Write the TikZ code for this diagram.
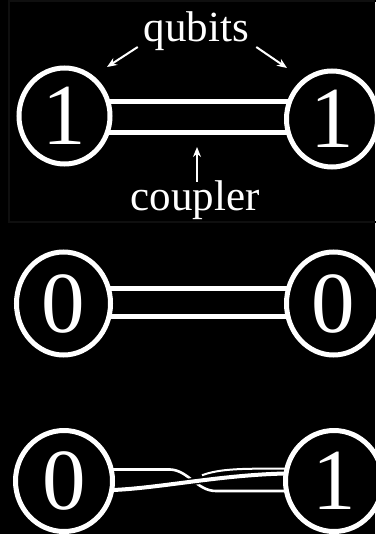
\documentclass[tikz,border=0pt]{standalone}
\usepackage{fontspec}
\setmainfont{Liberation Serif}
\usetikzlibrary{shapes.geometric,arrows.meta,calc}
\pgfdeclarelayer{back}
\pgfdeclarelayer{wires}
\pgfsetlayers{back,wires,main}
\definecolor{framegray}{RGB}{15,15,15}
\begin{document}
\begin{tikzpicture}[x=1pt,y=-1pt,
  qubit/.style={ellipse, draw=white, line width=5pt, fill=black, text=white,
    inner sep=0pt, font=\fontsize{87}{87}\selectfont},
  lbltext/.style={text=white, inner sep=0pt, anchor=base,
    font=\fontsize{43}{43}\selectfont},
  pointer/.style={draw=white, line width=2pt, -{Stealth[length=10pt,width=8pt]}},
  couplerline/.style={draw=white, line width=5pt},
  thinwire/.style={draw=white, line width=2.6pt},
  thickwire/.style={draw=white, line width=4pt},
  casing/.style={draw=black, line width=7pt}
]
\useasboundingbox (0,0) rectangle (375,534);
\begin{pgfonlayer}{back}
  \fill[black] (0,0) rectangle (375,534);
  \draw[framegray, line width=2pt] (9,1) rectangle (385,222);
\end{pgfonlayer}

% qubits
\node[qubit, minimum width=91pt, minimum height=96pt] (qa) at (64.5,116) {1};
\node[qubit, minimum width=91pt, minimum height=96pt] (qb) at (332,119) {1};
\node[qubit, minimum width=94pt, minimum height=103pt] (qc) at (63.5,303.5) {0};
\node[qubit, minimum width=94pt, minimum height=103pt] (qd) at (333.5,303.5) {0};
\node[qubit, minimum width=97pt, minimum height=101pt] (qe) at (64,481) {0};
\node[qubit, minimum width=97pt, minimum height=101pt] (qf) at (334,481) {1};

% labels
\node[lbltext] (qlabel) at (196.5,42) {qubits};
\node[lbltext] (clabel) at (195,211) {coupler};

% couplers
\begin{pgfonlayer}{wires}
  \coordinate (ca1) at ($(qa)+(0,-14.5)$);
  \coordinate (ca2) at ($(qa)+(0,16.5)$);
  \draw[couplerline] (ca1) -- (ca1 -| qb);
  \draw[couplerline] (ca2) -- (ca2 -| qb);
  \coordinate (cb1) at ($(qc)+(0,-15)$);
  \coordinate (cb2) at ($(qc)+(0,13)$);
  \draw[couplerline] (cb1) -- (cb1 -| qd);
  \draw[couplerline] (cb2) -- (cb2 -| qd);
  % twisted coupler
  \coordinate (tA1) at ($(qe)+(0,-11.5)$);
  \coordinate (tA2) at ($(qf)+(0,10)$);
  \coordinate (tB1) at ($(qe)+(0,9)$);
  \coordinate (tB2) at ($(qf)+(0,-7.5)$);
  \coordinate (tC2) at ($(qf)+(0,-12.5)$);
  \draw[thinwire] (tA1) -- (170,469.5) .. controls (188,470) and (197,491) .. (216,491) -- (tA2);
  \draw[casing] (118,489.8) .. controls (160,488) and (220,475) .. (282,473.5);
  \draw[thickwire] (tB1) -- (113,490) .. controls (160,488) and (220,475) .. (285,473.5) -- (tB2);
  \draw[line width=2pt, white] (202,475.2) .. controls (215,470.5) and (230,469) .. (255,468.7) -- (tC2);
\end{pgfonlayer}

% arrows
\coordinate (qtipL) at (107,67);
\coordinate (qtipR) at (287,68);
\coordinate (ctip) at (197,147);
\coordinate (ctail) at ($(clabel.north)+(2,1)$);
\draw[pointer] ($(qlabel.base west)+(-6,5)$) -- (qtipL);
\draw[pointer] ($(qlabel.base east)+(7,5)$) -- (qtipR);
\draw[pointer] (ctail) -- (ctail |- ctip);
\end{tikzpicture}
\end{document}
